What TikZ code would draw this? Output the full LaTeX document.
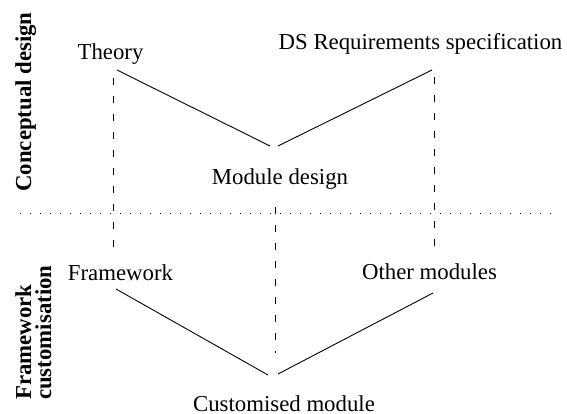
\documentclass[tikz,border=0pt]{standalone}
\usepackage{fontspec}
\setmainfont{Liberation Serif}
\begin{document}
\begin{tikzpicture}[x=1pt,y=-1pt,
  lbl/.style={inner sep=0pt,anchor=base,font=\fontsize{22.8}{26}\selectfont},
  phase/.style={inner sep=0pt,rotate=90,font=\fontsize{22.8}{20}\selectfont\bfseries},
  link/.style={line width=0.9pt},
  trace/.style={line width=0.9pt,dash pattern=on 7pt off 11pt},
  divider/.style={line width=0.9pt,dash pattern=on 1pt off 9pt}]
\useasboundingbox (0,0) rectangle (567,414);

% phase titles
\node[phase,anchor=base] (cd) at (31,102) {Conceptual design};
\node[phase,anchor=north west,align=left] (fc) at (15,400) {Framework\\customisation};

% divider between the two phases
\coordinate (divL) at (20,213);
\coordinate (divR) at (552,213);
\draw[divider] (divL) -- (divR);

% items
\node[lbl] (theory) at (110.5,60) {Theory};
\node[lbl] (dsreq) at (420.5,50) {DS Requirements specification};
\node[lbl] (moddes) at (280,185) {Module design};
\node[lbl] (frame) at (120.5,280) {Framework};
\node[lbl] (other) at (429.5,279) {Other modules};
\node[lbl] (custom) at (284,411.5) {Customised module};

% derivations
\draw[link] ([shift={(6.5,10)}]theory.base) -- ([shift={(-10,-39)}]moddes.base);
\draw[link] ([shift={(11.5,20)}]dsreq.base) -- ([shift={(-2,-39)}]moddes.base);
\draw[link] ([shift={(-4.5,9)}]frame.base) -- ([shift={(-16,-36.5)}]custom.base);
\draw[link] ([shift={(3.5,14)}]other.base) -- ([shift={(-6,-37.5)}]custom.base);

% correspondences across the phases
\draw[trace] ([shift={(2.5,18)}]theory.base) -- ([shift={(-7.5,-28)}]frame.base);
\draw[trace] ([shift={(13.5,27)}]dsreq.base) -- ([shift={(4.5,-27)}]other.base);
\draw[trace] ([shift={(-5,22)}]moddes.base) -- ([shift={(-9,-58.5)}]custom.base);
\end{tikzpicture}
\end{document}
